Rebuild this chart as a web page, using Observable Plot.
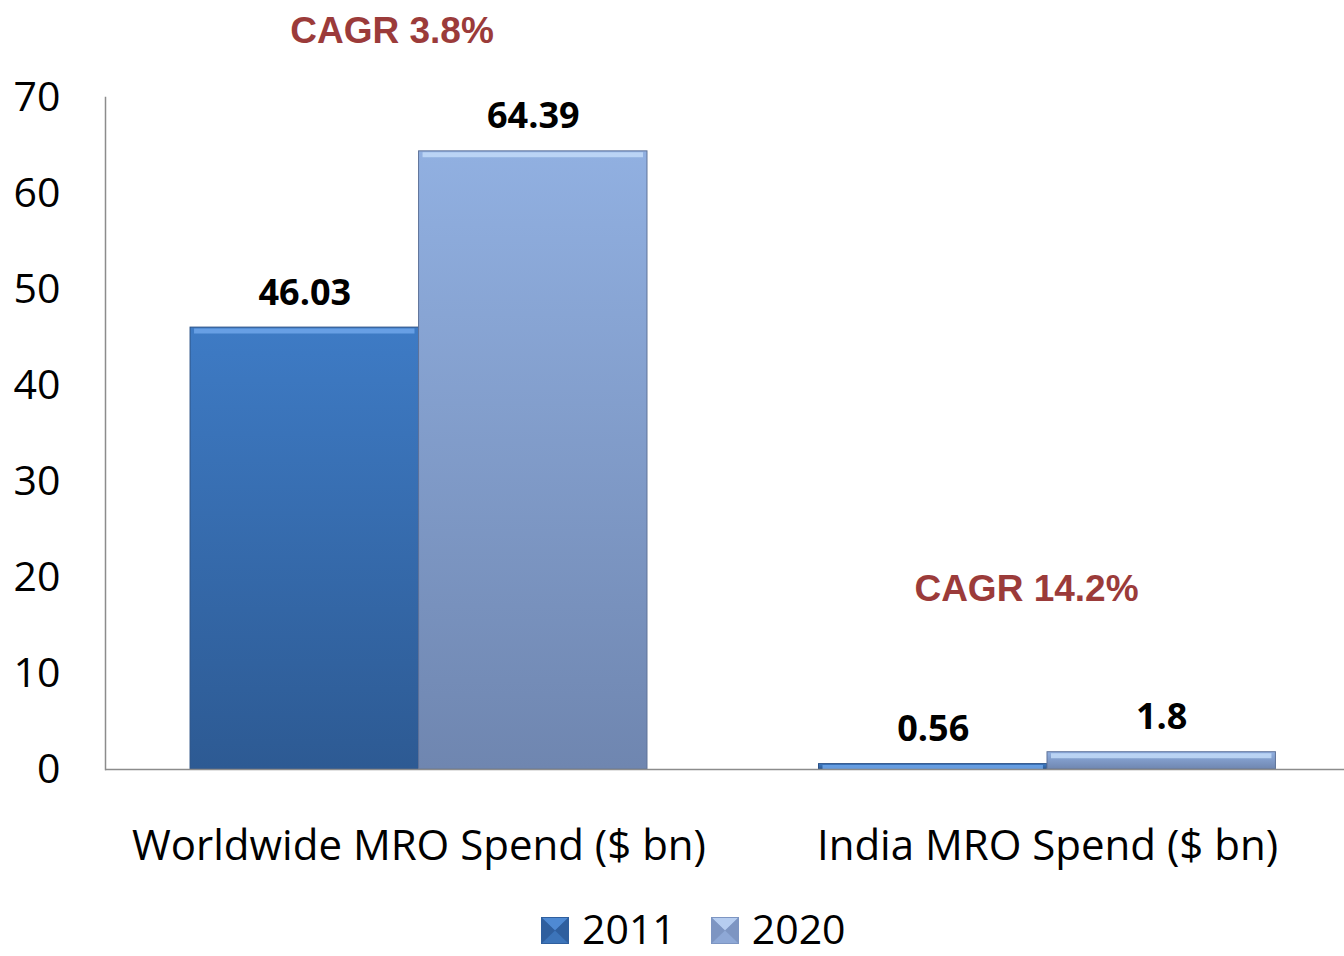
<!DOCTYPE html>
<html>
<head>
<meta charset="utf-8">
<script src="https://cdn.jsdelivr.net/npm/d3@7"></script>
<script src="https://cdn.jsdelivr.net/npm/@observablehq/plot@0.6"></script>
<style>
  html, body { margin: 0; padding: 0; background: #fff; overflow: hidden; }
  #chart svg { display: block; }
  #legend { height: 56px; display: flex; align-items: center; padding-left: 541px;
            font-family: 'Open Sans', sans-serif; font-size: 41px; line-height: normal; color: #000; }
  #legend .item { display: flex; align-items: center; margin-right: 35px; }
  #legend svg { margin-right: 13px; display: block; margin-top: 4px; }
</style>
</head>
<body>
<svg width="0" height="0" style="position:absolute">
  <defs>
    <linearGradient id="g2011" x1="0" y1="0" x2="0" y2="1">
      <stop offset="0" stop-color="#3e7bc5"/>
      <stop offset="1" stop-color="#2d5a93"/>
    </linearGradient>
    <linearGradient id="g2020" x1="0" y1="0" x2="0" y2="1">
      <stop offset="0" stop-color="#91b0e1"/>
      <stop offset="1" stop-color="#6f86b0"/>
    </linearGradient>
  </defs>
</svg>
<div id="chart"></div>
<div id="legend"></div>
<script>
// ---- data ----
const groups = ["Worldwide MRO Spend ($ bn)", "India MRO Spend ($ bn)"];
const years = ["2011", "2020"];
const spend2011 = [46.03, 0.56];
const spend2020 = [64.39, 1.8];
const cagrLabels = ["CAGR 3.8%", "CAGR 14.2%"];
const cagrAt = [75.7, 17.6];           // value-axis anchor of each CAGR note
const yTicks = [0, 10, 20, 30, 40, 50, 60, 70];

const rows2011 = groups.map((g, i) => ({group: g, year: years[0], value: spend2011[i]}));
const rows2020 = groups.map((g, i) => ({group: g, year: years[1], value: spend2020[i]}));
const notes = groups.map((g, i) => ({group: g, label: cagrLabels[i], at: cagrAt[i]}));

const half = 228.5;
const axisColor = "#8c8c8c";
const noteStyle = {x: "group", y: "at", text: "label", lineAnchor: "bottom",
  fontFamily: "'Liberation Sans', Arial, sans-serif", fontSize: 37, fontWeight: "bold", fill: "#9b3b3a"};

const chart = Plot.plot({
  width: 1344,
  height: 900,
  marginLeft: 105,
  marginRight: 0,
  marginTop: 97,
  marginBottom: 131,
  style: {fontFamily: "'Open Sans', sans-serif", background: "white", color: "black", overflow: "visible"},
  x: {domain: groups, paddingInner: 0.2729, paddingOuter: 0.1222, align: 0.5537, round: false, label: null},
  y: {domain: [0, 70], label: null},
  marks: [
    Plot.rectY(rows2011, {x: "group", y: "value", insetRight: half, fill: "url(#g2011)", stroke: "#2a5186", strokeWidth: 1}),
    Plot.rectY(rows2020, {x: "group", y: "value", insetLeft: half, fill: "url(#g2020)", stroke: "#5f7399", strokeWidth: 1}),
    Plot.tickY(rows2011, {x: "group", y: "value", insetLeft: 4, insetRight: half + 4, dy: 3.5, stroke: "#6ea6ea", strokeWidth: 5, strokeOpacity: 0.85}),
    Plot.tickY(rows2020, {x: "group", y: "value", insetLeft: half + 4, insetRight: 4, dy: 3.5, stroke: "#c2dbf8", strokeWidth: 5, strokeOpacity: 0.85}),
    Plot.frame({anchor: "left", stroke: axisColor, strokeWidth: 1.5}),
    Plot.ruleY([0], {stroke: axisColor, strokeWidth: 1.5}),
    Plot.axisY({ticks: yTicks, tickSize: 0, tickPadding: 45, fontSize: 41, tickFormat: d => String(d)}),
    Plot.axisX({tickSize: 0, tickPadding: 61, fontSize: 42}),
    Plot.text(rows2011, {x: "group", y: "value", text: d => String(d.value), dx: -half / 2, dy: -23,
      lineAnchor: "bottom", fontSize: 36, fontWeight: "bold", fill: "black"}),
    Plot.text(rows2020, {x: "group", y: "value", text: d => String(d.value), dx: half / 2, dy: -23,
      lineAnchor: "bottom", fontSize: 36, fontWeight: "bold", fill: "black"}),
    Plot.text(notes.slice(0, 1), {...noteStyle, dx: -27}),
    Plot.text(notes.slice(1), {...noteStyle, dx: -21})
  ]
});
document.getElementById("chart").appendChild(chart);

// ---- legend ----
const swatchColors = {
  "2011": {top: "#4f8ad3", side: "#2f5f9e", bottom: "#3c74b9", mid: "#3a72b8"},
  "2020": {top: "#b6cdf0", side: "#7d95c2", bottom: "#8ea8d6", mid: "#93add9"}
};
const legend = document.getElementById("legend");
years.forEach(y => {
  const c = swatchColors[y];
  const item = document.createElement("div");
  item.className = "item";
  item.innerHTML =
    `<svg width="28" height="27" viewBox="0 0 28 27">
       <rect x="0" y="0" width="28" height="27" fill="${c.mid}"/>
       <polygon points="0,0 28,0 14,13.5" fill="${c.top}"/>
       <polygon points="0,27 28,27 14,13.5" fill="${c.bottom}"/>
       <polygon points="0,0 0,27 14,13.5" fill="${c.side}"/>
       <polygon points="28,0 28,27 14,13.5" fill="${c.side}"/>
       <rect x="0.5" y="0.5" width="27" height="26" fill="none" stroke="${c.side}" stroke-width="1"/>
     </svg><span>${y}</span>`;
  legend.appendChild(item);
});
</script>
</body>
</html>
